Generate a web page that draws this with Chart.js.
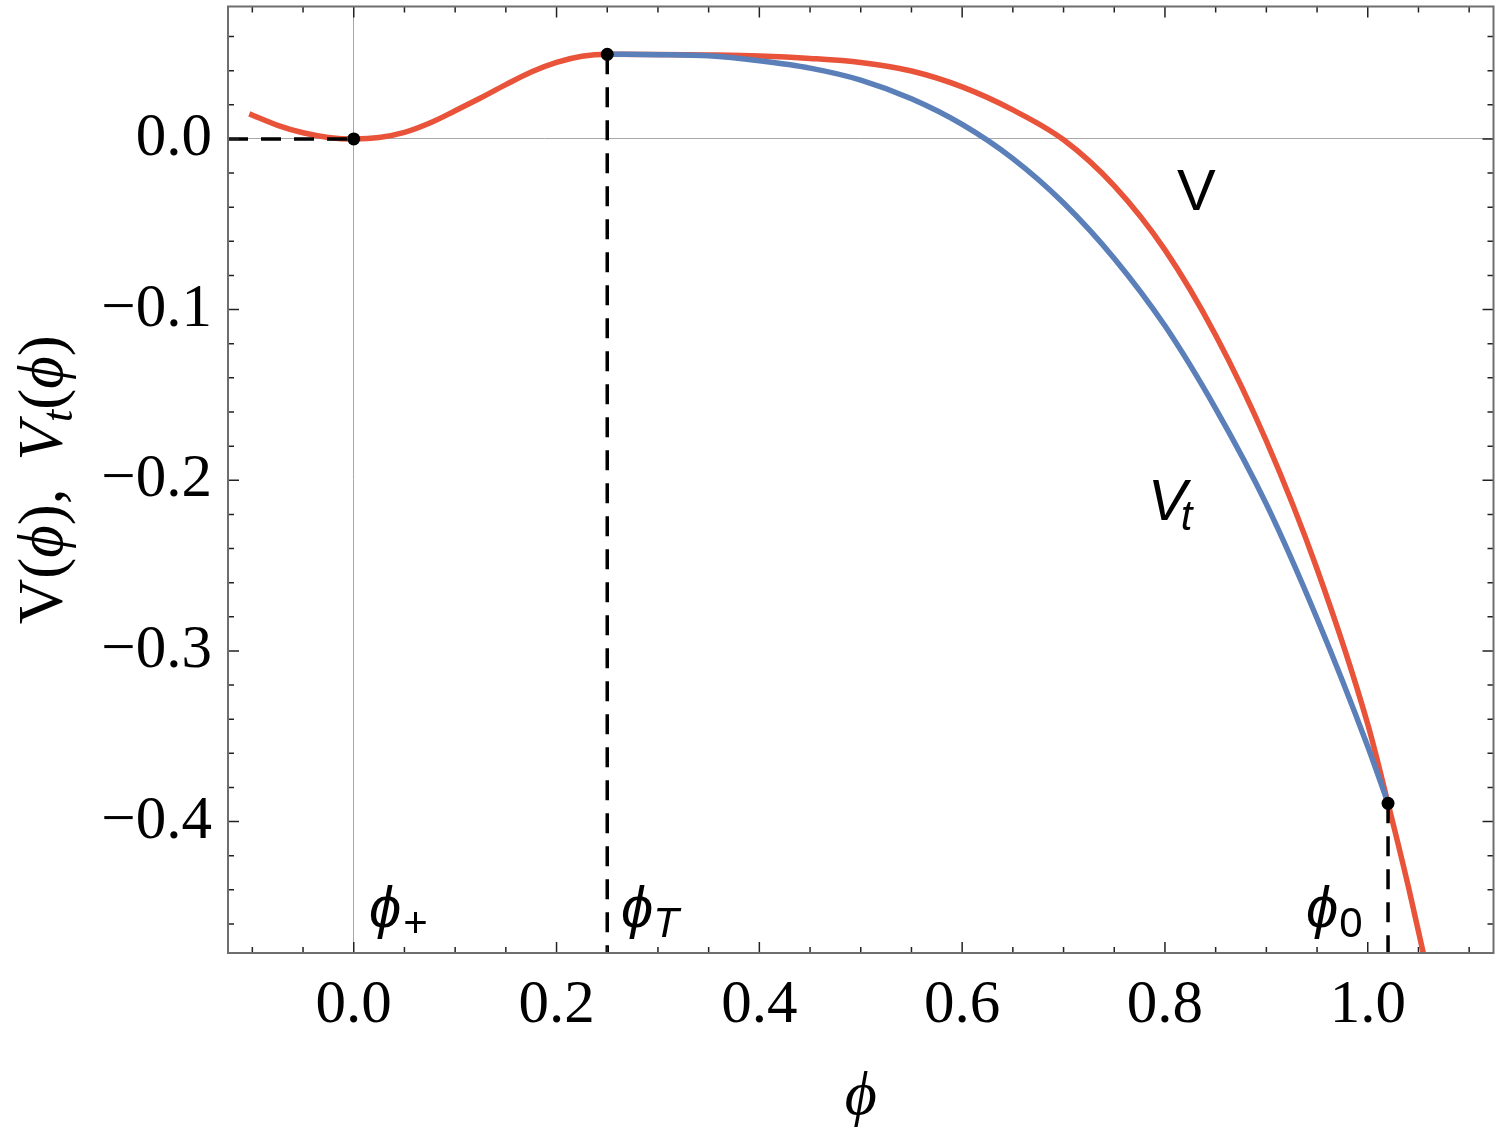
<!DOCTYPE html>
<html lang="en">
<head>
    <meta charset="UTF-8">
    <title>V(phi) and V_t(phi)</title>
    <script src="https://cdn.jsdelivr.net/npm/chart.js"></script>
    <style>
        html, body {
            margin: 0;
            padding: 0;
            background: #fff;
        }
        #potChart {
            display: block;
        }
    </style>
</head>
<body>
    <canvas id="potChart" width="1500" height="1134"></canvas>

    <script>
        // potential V(phi), red curve
        const phiV = [-0.103, -0.075, -0.05, -0.025, 0, 0.025, 0.05, 0.075, 0.10, 0.125, 0.15, 0.175, 0.20, 0.225, 0.25,
                      0.30, 0.35, 0.40, 0.45, 0.50, 0.55, 0.60, 0.65, 0.70, 0.75, 0.80, 0.85, 0.90, 0.95, 1.00,
                      1.02, 1.04, 1.055];
        const valV = [0.0147, 0.0080, 0.0036, 0.0009, 0, 0.0008, 0.0038, 0.0093, 0.0165, 0.0240, 0.0318, 0.0392, 0.0448, 0.0484, 0.0496,
                      0.0495, 0.0492, 0.0486, 0.0472, 0.0448, 0.0398, 0.0305, 0.0170, -0.0005, -0.0275, -0.0650, -0.1150, -0.1770, -0.2520, -0.3430,
                      -0.3893, -0.4380, -0.4777];

        // tunnelling potential V_t(phi), blue curve from phi_T to phi_0
        const phiVt = [0.25, 0.30, 0.35, 0.40, 0.45, 0.50, 0.55, 0.60, 0.65, 0.70, 0.75, 0.80, 0.85, 0.90, 0.95, 1.00, 1.02];
        const valVt = [0.0496, 0.0494, 0.0487, 0.0458, 0.0415, 0.0345, 0.0235, 0.0085, -0.0115, -0.0375, -0.0700, -0.1095,
                       -0.1580, -0.2140, -0.2810, -0.3560, -0.3893];

        // marked points phi_+, phi_T, phi_0
        const markPhi = [0, 0.25, 1.02];
        const markV = [0, 0.0496, -0.3893];

        const xMin = -0.124, xMax = 1.124;
        const yMin = -0.477, yMax = 0.0776;
        const xTicks = [0, 0.2, 0.4, 0.6, 0.8, 1.0];
        const yTicks = [0, -0.1, -0.2, -0.3, -0.4];

        const serif = "'Liberation Serif', 'DejaVu Serif', serif";
        const sans = "'Liberation Sans', 'DejaVu Sans', sans-serif";
        const red = '#e8533a';
        const blue = '#5b7fb9';
        const PHI = '\u03d5';

        const pts = (xs, ys) => xs.map((x, i) => ({x: x, y: ys[i]}));
        const fmt = v => (v < 0 ? '\u2212' : '') + Math.abs(v).toFixed(1);

        // parts: [text, font, baseline shift, extra gap before]
        function drawParts(ctx, parts, x, y) {
            let cx = x;
            parts.forEach(p => {
                ctx.font = p[1];
                cx += (p[3] || 0);
                ctx.fillText(p[0], cx, y + (p[2] || 0));
                cx += ctx.measureText(p[0]).width;
            });
            return cx;
        }

        function partsWidth(ctx, parts) {
            let w = 0;
            parts.forEach(p => {
                ctx.font = p[1];
                w += ctx.measureText(p[0]).width + (p[3] || 0);
            });
            return w;
        }

        // frame, inward ticks on all four sides, titles and labels
        const frameAndText = {
            id: 'frameAndText',
            afterDatasetsDraw(chart) {
                const {ctx, chartArea: a, scales: {x, y}} = chart;
                ctx.save();
                ctx.strokeStyle = '#222';
                ctx.lineWidth = 1.5;
                ctx.beginPath();
                for (let i = -2; i <= 22; i++) {
                    const px = x.getPixelForValue(i * 0.05);
                    const len = i % 4 === 0 ? 11 : 6;
                    ctx.moveTo(px, a.bottom); ctx.lineTo(px, a.bottom - len);
                    ctx.moveTo(px, a.top); ctx.lineTo(px, a.top + len);
                }
                for (let i = -23; i <= 3; i++) {
                    const py = y.getPixelForValue(i * 0.02);
                    const len = i % 5 === 0 ? 11 : 6;
                    ctx.moveTo(a.left, py); ctx.lineTo(a.left + len, py);
                    ctx.moveTo(a.right, py); ctx.lineTo(a.right - len, py);
                }
                ctx.stroke();
                ctx.strokeStyle = '#6e6e6e';
                ctx.lineWidth = 2;
                ctx.strokeRect(a.left, a.top, a.right - a.left, a.bottom - a.top);
                ctx.restore();
            },
            afterDraw(chart) {
                const {ctx, chartArea: a} = chart;
                ctx.save();
                ctx.fillStyle = '#000';
                ctx.textBaseline = 'alphabetic';
                ctx.textAlign = 'left';

                // x title
                ctx.font = 'italic 62px ' + serif;
                ctx.textAlign = 'center';
                ctx.fillText(PHI, (a.left + a.right) / 2, 1114);
                ctx.textAlign = 'left';

                // y title, rotated
                const big = '63px ' + serif, bigI = 'italic 63px ' + serif, subI = 'italic 44px ' + serif;
                const yParts = [['V(', big], [PHI, bigI], [')', big], [',', big], ['V', bigI, 0, 28], ['t', subI, 10],
                                ['(', big], [PHI, bigI], [')', big]];
                const w = partsWidth(ctx, yParts);
                ctx.translate(62, (a.top + a.bottom) / 2);
                ctx.rotate(-Math.PI / 2);
                drawParts(ctx, yParts, -w / 2, 0);
                ctx.setTransform(1, 0, 0, 1, 0, 0);

                // curve labels
                const lab = '58px ' + sans, labI = 'italic 58px ' + sans;
                const sub = '42px ' + sans, subIs = 'italic 42px ' + sans;
                ctx.font = lab;
                ctx.fillText('V', 1177, 210);
                drawParts(ctx, [['V', labI], ['t', subIs, 10, -6]], 1148, 520);

                // field markers
                drawParts(ctx, [[PHI, labI], ['+', sub, 10, 2]], 369, 927);
                drawParts(ctx, [[PHI, labI], ['T', subIs, 10, 0]], 621, 927);
                drawParts(ctx, [[PHI, labI], ['0', sub, 10, 1]], 1306, 927);
                ctx.restore();
            }
        };

        const dashed = {
            borderColor: '#000',
            borderWidth: 3.5,
            borderDash: [20, 13],
            pointRadius: 0,
            order: 1
        };

        const ctx = document.getElementById('potChart').getContext('2d');
        new Chart(ctx, {
            type: 'line',
            data: {
                datasets: [
                    {
                        label: 'points',
                        data: pts(markPhi, markV),
                        showLine: false,
                        pointRadius: 6.5,
                        pointBackgroundColor: '#000',
                        pointBorderWidth: 0,
                        order: 0
                    },
                    Object.assign({label: 'phi+ level', data: pts([xMin, markPhi[0]], [markV[0], markV[0]])}, dashed),
                    Object.assign({label: 'phiT drop', data: pts([markPhi[1], markPhi[1]], [markV[1], yMin])}, dashed),
                    Object.assign({label: 'phi0 drop', data: pts([markPhi[2], markPhi[2]], [markV[2], yMin])}, dashed),
                    {
                        label: 'Vt',
                        data: pts(phiVt, valVt),
                        borderColor: blue,
                        borderWidth: 5.5,
                        cubicInterpolationMode: 'monotone',
                        pointRadius: 0,
                        clip: 0,
                        order: 2
                    },
                    {
                        label: 'V',
                        data: pts(phiV, valV),
                        borderColor: red,
                        borderWidth: 5.5,
                        cubicInterpolationMode: 'monotone',
                        pointRadius: 0,
                        clip: 0,
                        order: 3
                    }
                ]
            },
            options: {
                responsive: false,
                devicePixelRatio: 1,
                animation: false,
                layout: {padding: {top: 2, right: 6, left: 0, bottom: 0}},
                plugins: {
                    legend: {display: false},
                    tooltip: {enabled: false}
                },
                scales: {
                    x: {
                        type: 'linear',
                        min: xMin,
                        max: xMax,
                        afterBuildTicks: s => { s.ticks = xTicks.map(v => ({value: v})); },
                        afterFit: s => { s.height = 181; s.paddingLeft = 0; s.paddingRight = 0; },
                        border: {display: false},
                        grid: {
                            drawTicks: false,
                            lineWidth: 1,
                            color: c => (c.tick && c.tick.value === 0) ? '#a8a8a8' : 'rgba(0,0,0,0)'
                        },
                        ticks: {
                            padding: 16,
                            color: '#000',
                            maxRotation: 0,
                            autoSkip: false,
                            font: {family: serif, size: 61},
                            callback: v => fmt(v)
                        }
                    },
                    y: {
                        type: 'linear',
                        min: yMin,
                        max: yMax,
                        afterBuildTicks: s => { s.ticks = yTicks.map(v => ({value: v})); },
                        afterFit: s => { s.width = 228; s.paddingTop = 0; s.paddingBottom = 0; },
                        border: {display: false},
                        grid: {
                            drawTicks: false,
                            lineWidth: 1,
                            color: c => (c.tick && c.tick.value === 0) ? '#a8a8a8' : 'rgba(0,0,0,0)'
                        },
                        ticks: {
                            padding: 16,
                            color: '#000',
                            autoSkip: false,
                            font: {family: serif, size: 61},
                            callback: v => fmt(v)
                        }
                    }
                }
            },
            plugins: [frameAndText]
        });
    </script>
</body>
</html>
